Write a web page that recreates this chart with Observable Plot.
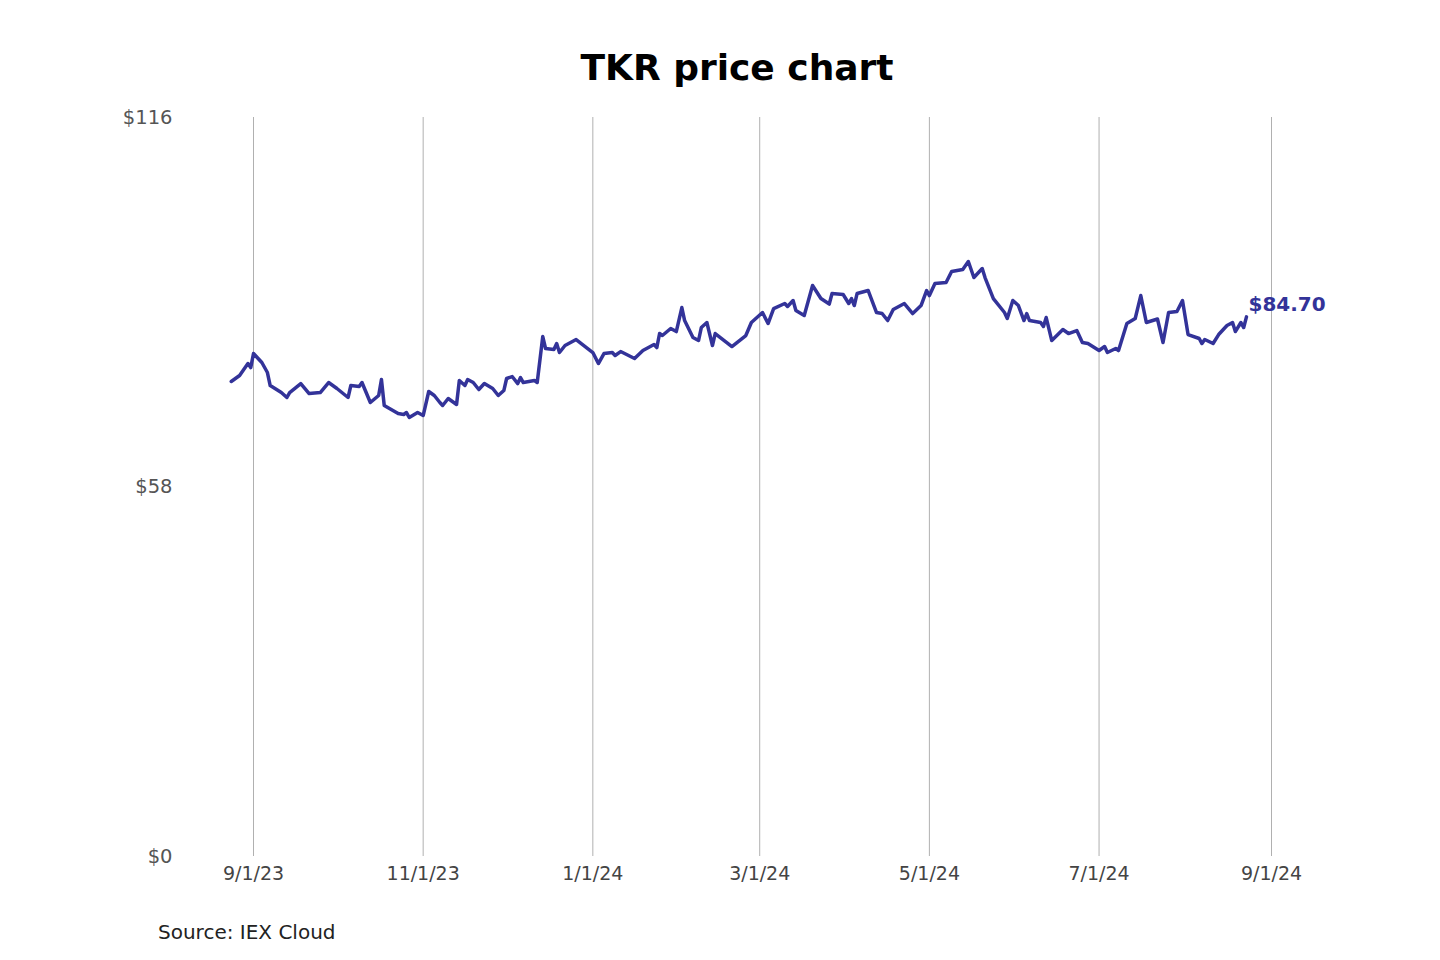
<!DOCTYPE html>
<html>
<head>
<meta charset="utf-8">
<script src="https://cdn.jsdelivr.net/npm/d3@7"></script>
<script src="https://cdn.jsdelivr.net/npm/@observablehq/plot@0.6"></script>
<style>
  html, body { margin: 0; padding: 0; background: #fff; }
  body { width: 1440px; font-family: "DejaVu Sans", sans-serif; }
  #title { height: 100px; box-sizing: border-box; padding-top: 48px; padding-left: 34px; line-height: 40px; text-align: center; font-weight: bold; font-size: 36px; color: #000; }
  #caption { margin-top: 24px; line-height: 24px; padding-left: 158px; font-size: 20px; color: #222; }
  #chart svg { display: block; }
</style>
</head>
<body>
<div id="title">TKR price chart</div>
<div id="chart"></div>
<div id="caption">Source: IEX Cloud</div>
<script>
const dates = [
  "2023-08-24","2023-08-27","2023-08-30","2023-08-31","2023-09-01","2023-09-04","2023-09-06","2023-09-07",
  "2023-09-11","2023-09-13","2023-09-14","2023-09-18","2023-09-21","2023-09-25","2023-09-28","2023-10-01",
  "2023-10-05","2023-10-06","2023-10-09","2023-10-10","2023-10-13","2023-10-16","2023-10-17","2023-10-18",
  "2023-10-23","2023-10-25","2023-10-26","2023-10-27","2023-10-30","2023-11-01","2023-11-03","2023-11-05",
  "2023-11-07","2023-11-08","2023-11-10","2023-11-13","2023-11-14","2023-11-16","2023-11-17","2023-11-19",
  "2023-11-21","2023-11-23","2023-11-26","2023-11-28","2023-11-30","2023-12-01","2023-12-03","2023-12-05",
  "2023-12-06","2023-12-07","2023-12-11","2023-12-12","2023-12-14","2023-12-15","2023-12-18","2023-12-19",
  "2023-12-20","2023-12-22","2023-12-26","2024-01-01","2024-01-03","2024-01-05","2024-01-08","2024-01-09",
  "2024-01-11","2024-01-16","2024-01-19","2024-01-23","2024-01-24","2024-01-25","2024-01-26","2024-01-29",
  "2024-01-31","2024-02-02","2024-02-03","2024-02-06","2024-02-08","2024-02-09","2024-02-11","2024-02-13",
  "2024-02-14","2024-02-20","2024-02-25","2024-02-27","2024-03-02","2024-03-04","2024-03-06","2024-03-10",
  "2024-03-11","2024-03-13","2024-03-14","2024-03-17","2024-03-20","2024-03-23","2024-03-26","2024-03-27",
  "2024-03-31","2024-04-02","2024-04-03","2024-04-04","2024-04-05","2024-04-09","2024-04-12","2024-04-14",
  "2024-04-16","2024-04-18","2024-04-22","2024-04-25","2024-04-28","2024-04-30","2024-05-01","2024-05-03",
  "2024-05-07","2024-05-09","2024-05-13","2024-05-15","2024-05-17","2024-05-20","2024-05-21","2024-05-24",
  "2024-05-28","2024-05-29","2024-05-31","2024-06-02","2024-06-04","2024-06-05","2024-06-06","2024-06-10",
  "2024-06-11","2024-06-12","2024-06-14","2024-06-18","2024-06-20","2024-06-23","2024-06-25","2024-06-27",
  "2024-07-01","2024-07-03","2024-07-04","2024-07-07","2024-07-08","2024-07-11","2024-07-14","2024-07-16",
  "2024-07-18","2024-07-22","2024-07-24","2024-07-26","2024-07-29","2024-07-31","2024-08-02","2024-08-06",
  "2024-08-07","2024-08-08","2024-08-11","2024-08-13","2024-08-16","2024-08-18","2024-08-19","2024-08-21",
  "2024-08-22","2024-08-23"
];
const prices = [
  74.56,75.50,77.38,76.75,78.95,77.54,75.97,73.93,
  72.83,72.05,72.83,74.24,72.67,72.83,74.40,73.46,
  72.05,73.93,73.77,74.40,71.26,72.36,74.87,70.79,
  69.53,69.38,69.69,68.91,69.69,69.22,72.99,72.36,
  71.26,70.79,71.89,70.95,74.71,73.93,74.87,74.40,
  73.30,74.24,73.46,72.36,73.14,75.03,75.34,74.24,
  75.18,74.40,74.71,74.40,81.62,79.74,79.58,80.52,
  79.11,80.21,81.15,79.11,77.38,78.95,79.11,78.64,
  79.26,78.17,79.42,80.36,79.89,82.09,81.78,82.88,
  82.40,86.17,84.13,81.46,80.99,83.03,83.82,80.21,
  82.09,80.05,81.78,83.82,85.39,83.66,86.01,86.80,
  86.33,87.27,85.70,84.92,89.62,87.58,86.72,88.37,
  88.21,86.80,87.58,86.48,88.37,88.84,85.39,85.23,
  84.13,85.86,86.80,85.23,86.48,88.84,88.05,89.94,
  90.10,91.82,92.14,93.39,90.88,92.29,90.88,87.58,
  85.39,84.45,87.27,86.48,84.13,85.23,84.13,83.82,
  83.19,84.60,80.99,82.72,82.09,82.56,80.68,80.52,
  79.42,80.05,79.11,79.74,79.42,83.66,84.45,88.05,
  83.82,84.37,80.68,85.39,85.55,87.27,81.93,81.31,
  80.52,81.15,80.52,81.93,83.35,83.82,82.40,83.82,
  83.03,84.70
];
const xTicks = ["2023-09-01","2023-11-01","2024-01-01","2024-03-01","2024-05-01","2024-07-01","2024-09-01"];
const yTicks = [0, 58, 116];
const xDomain = ["2023-09-01","2024-09-01"];

const parse = d3.utcParse("%Y-%m-%d");
const data = dates.map((d, i) => ({date: parse(d), price: prices[i]}));
const last = data[data.length - 1];
const fmtDate = d3.utcFormat("%-m/%-d/%y");

const chart = Plot.plot({
  width: 1440,
  height: 796,
  marginLeft: 253,
  marginRight: 169,
  marginTop: 17,
  marginBottom: 40,
  style: {fontFamily: "DejaVu Sans, sans-serif", background: "#fff", overflow: "visible"},
  x: {type: "utc", domain: xDomain.map(parse)},
  y: {domain: [0, 116]},
  marks: [
    Plot.gridX(xTicks.map(parse), {stroke: "#b0b0b0", strokeOpacity: 1, strokeWidth: 1}),
    Plot.axisX(xTicks.map(parse), {tickSize: 0, tickPadding: 10, tickFormat: fmtDate, fontSize: 19, fill: "#444", label: null}),
    Plot.axisY(yTicks, {tickSize: 0, tickPadding: 81, tickFormat: d => "$" + d, fontSize: 19.5, fill: "#555", label: null}),
    Plot.line(data, {x: "date", y: "price", stroke: "#333399", strokeWidth: 3.5, strokeLinejoin: "round", strokeLinecap: "round"}),
    Plot.text([last], {x: "date", y: "price", text: d => "$" + d.price.toFixed(2), textAnchor: "start", dx: 2, dy: -12, fontSize: 20, fontWeight: "bold", fill: "#333399"})
  ]
});
document.getElementById("chart").appendChild(chart);
</script>
</body>
</html>
